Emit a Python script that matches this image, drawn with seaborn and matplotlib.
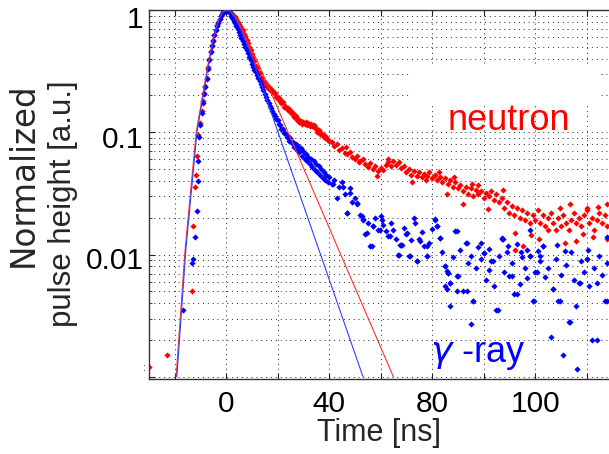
import numpy as np
import pandas as pd
import matplotlib
matplotlib.use("Agg")
import matplotlib.pyplot as plt
import matplotlib.transforms as mtransforms
from matplotlib.patches import Rectangle
import seaborn as sns

# ---------------- data ----------------
# neutron (red) pulse: sparse leading points, dense band, tail
neutron_t_early = [-29.8, -23.0, -13.3, -12.7, -12.0, -11.7, -11.1, -10.7]
neutron_v_early = [0.00121, 0.0015, 0.0050, 0.017, 0.036, 0.0445, 0.064, 0.095]

band_t = np.arange(-10.0, 40.01, 0.5)
neutron_v_band = [
    0.12, 0.15, 0.18, 0.21, 0.24, 0.28, 0.34, 0.40, 0.46, 0.52,
    0.57, 0.63, 0.69, 0.75, 0.80, 0.85, 0.90, 0.93, 0.96, 0.99,
    1.00, 1.00, 0.99, 0.97, 0.95, 0.92, 0.90, 0.87, 0.84, 0.80,
    0.77, 0.74, 0.71, 0.68, 0.64, 0.61, 0.57, 0.54, 0.50, 0.47,
    0.44, 0.41, 0.385, 0.35, 0.335, 0.31, 0.305, 0.28, 0.28, 0.26,
    0.26, 0.24, 0.242, 0.228, 0.23, 0.218, 0.222, 0.208, 0.208, 0.194,
    0.195, 0.182, 0.186, 0.172, 0.176, 0.162, 0.165, 0.154, 0.159, 0.148,
    0.151, 0.140, 0.144, 0.134, 0.136, 0.126, 0.128, 0.121, 0.124, 0.117,
    0.121, 0.116, 0.122, 0.114, 0.119, 0.113, 0.118, 0.112, 0.114, 0.108,
    0.108, 0.101, 0.104, 0.097, 0.099, 0.093, 0.095, 0.090, 0.091, 0.086,
    0.085]

tail_t = np.arange(41, 149, 1)
neutron_v_tail = [
    0.083, 0.077, 0.080, 0.071, 0.074, 0.068, 0.066, 0.069, 0.063, 0.060,
    0.064, 0.058, 0.061, 0.055, 0.052, 0.056, 0.050, 0.053, 0.048, 0.051,
    0.049, 0.054, 0.057, 0.053, 0.058, 0.054, 0.057, 0.051, 0.053, 0.047,
    0.050, 0.045, 0.048, 0.044, 0.047, 0.043, 0.046, 0.044, 0.047, 0.042,
    0.045, 0.041, 0.043, 0.039, 0.042, 0.038, 0.041, 0.036, 0.039, 0.035,
    0.037, 0.033, 0.036, 0.031, 0.035, 0.030, 0.034, 0.031, 0.033, 0.029,
    0.032, 0.030, 0.033, 0.028, 0.031, 0.027, 0.029, 0.024, 0.027, 0.022,
    0.025, 0.021, 0.024, 0.020, 0.023, 0.019, 0.022, 0.018, 0.021, 0.019,
    0.023, 0.018, 0.021, 0.017, 0.020, 0.022, 0.018, 0.016, 0.020, 0.017,
    0.021, 0.018, 0.016, 0.019, 0.022, 0.018, 0.020, 0.017, 0.021, 0.023,
    0.018, 0.020, 0.016, 0.019, 0.022, 0.018, 0.021, 0.017]

neutron_t_extra = [46.5, 51.5, 58.5, 63.0, 72.1, 77.5, 82.5, 85.7, 88.5, 92.0,
                   95.5, 98.0, 101.9, 107.5, 112.2, 112.2, 115.5, 118.5, 121.5, 125.2,
                   129.7, 131.5, 133.5, 136.0, 138.5, 140.0, 142.6, 144.5, 147.8, 147.8]
neutron_v_extra = [0.076, 0.057, 0.044, 0.061, 0.039, 0.041, 0.047, 0.031, 0.043, 0.0258,
                   0.038, 0.037, 0.0234, 0.034, 0.0151, 0.011, 0.0117, 0.0145, 0.0135, 0.0159,
                   0.024, 0.0125, 0.026, 0.0129, 0.0148, 0.024, 0.014, 0.0245, 0.0133, 0.026]

# gamma-ray (blue) pulse
gamma_t_early = [-16.6, -13.1, -12.9, -12.0, -11.4, -11.0, -10.7, -10.4]
gamma_v_early = [0.0035, 0.0085, 0.0092, 0.0139, 0.0226, 0.040, 0.058, 0.092]

gamma_v_band = [
    0.115, 0.145, 0.175, 0.205, 0.235, 0.275, 0.33, 0.39, 0.45, 0.51,
    0.56, 0.62, 0.68, 0.74, 0.79, 0.84, 0.89, 0.93, 0.96, 0.99,
    1.00, 0.99, 0.97, 0.94, 0.90, 0.86, 0.82, 0.78, 0.74, 0.70,
    0.66, 0.63, 0.59, 0.56, 0.53, 0.50, 0.475, 0.445, 0.415, 0.39,
    0.365, 0.345, 0.325, 0.31, 0.295, 0.28, 0.262, 0.248, 0.235, 0.222,
    0.207, 0.195, 0.185, 0.174, 0.165, 0.157, 0.149, 0.142, 0.137, 0.129,
    0.125, 0.116, 0.115, 0.106, 0.107, 0.099, 0.099, 0.092, 0.094, 0.085,
    0.089, 0.081, 0.084, 0.076, 0.080, 0.072, 0.077, 0.069, 0.074, 0.064,
    0.070, 0.061, 0.066, 0.058, 0.063, 0.055, 0.061, 0.052, 0.058, 0.049,
    0.055, 0.047, 0.053, 0.045, 0.050, 0.042, 0.047, 0.041, 0.045, 0.039,
    0.043]

gamma_v_tail = [
    0.038, 0.041, 0.029, 0.036, 0.039, 0.031, 0.022, 0.032, 0.027, 0.029,
    0.026, 0.021, 0.019, 0.0146, 0.018, 0.0117, 0.017, 0.020, 0.016, 0.0205,
    0.0175, 0.0155, 0.0143, 0.018, 0.0158, 0.0135, 0.010, 0.012, 0.0165, 0.0146,
    0.0098, 0.0132, 0.020, 0.0088, 0.0133, 0.0152, 0.0117, 0.0098, 0.0125, 0.0162,
    0.0194, 0.017, 0.0137, 0.0105, 0.008, 0.0071, 0.0059, 0.0095, 0.0155, 0.0067,
    0.011, 0.005, 0.0125, 0.0085, 0.0027, 0.0042, 0.0078, 0.0115, 0.0092, 0.0104,
    0.0062, 0.0075, 0.0088, 0.0055, 0.0035, 0.0098, 0.0134, 0.0072, 0.0105, 0.0067,
    0.0085, 0.0048, 0.0122, 0.0058, 0.0095, 0.0078, 0.0064, 0.0098, 0.0042, 0.0072,
    0.0108, 0.0088, 0.0117, 0.0065, 0.0078, 0.0021, 0.0052, 0.0092, 0.0042, 0.0068,
    0.0015, 0.0082, 0.0028, 0.0105, 0.0062, 0.0038, 0.0059, 0.0088, 0.0072, 0.0092,
    0.0055, 0.0020, 0.0078, 0.0059, 0.0098, 0.0068, 0.0042, 0.0085]

gamma_t_extra = [41.7, 45.6, 48.2, 50.8, 46.9, 52.7, 53.3, 57.2, 60.5, 54.6,
                 56.6, 59.8, 63.7, 67.6, 70.2, 73.4, 75.3, 77.9, 66.9, 71.5,
                 74.1, 81.2, 81.8, 83.1, 85.0, 86.3, 89.5, 93.5, 68.2, 77.9,
                 85.7, 89.5, 87.0, 85.7, 89.5, 93.5, 96.0, 87.0, 100.0, 103.8,
                 105.7, 107.7, 110.9, 112.8, 118.0, 119.4, 120.6, 123.2, 127.1, 129.7,
                 133.6, 136.2, 137.5, 140.0, 144.0, 147.8, 107.0, 118.0, 128.4, 147.8,
                 116.8, 140.6, 85.0, 95.0, 99.0, 102.0, 109.5, 114.5, 122.0, 131.5]
gamma_v_extra = [0.0375, 0.036, 0.035, 0.0266, 0.022, 0.0205, 0.0194, 0.0171, 0.019, 0.015,
                 0.0117, 0.016, 0.0143, 0.012, 0.015, 0.018, 0.013, 0.0117, 0.010, 0.0098,
                 0.0088, 0.019, 0.017, 0.0137, 0.008, 0.0071, 0.0155, 0.0125, 0.012, 0.0098,
                 0.0073, 0.0067, 0.0059, 0.0052, 0.005, 0.005, 0.0042, 0.0038, 0.0104, 0.0088,
                 0.0035, 0.0134, 0.0067, 0.0048, 0.0098, 0.0042, 0.0072, 0.0117, 0.0052, 0.0042,
                 0.0028, 0.00115, 0.0059, 0.0092, 0.002, 0.0042, 0.0137, 0.016, 0.012, 0.014,
                 0.011, 0.011, 0.0055, 0.0098, 0.0125, 0.0112, 0.0118, 0.0105, 0.0098, 0.0108]

# fitted curves (vertices)
neutron_fit_t = [-19.4, -15.9, -11.6, -9.1, -7.1, -5.0, -3.0, -1.5, 0.0, 1.0, 2.0, 3.0, 4.0, 6.0, 8.0, 10.0, 12.0, 65.0]
neutron_fit_v = [0.001, 0.011, 0.10, 0.20, 0.35, 0.58, 0.82, 0.95, 1.0, 0.99, 0.96, 0.91, 0.85, 0.70, 0.57, 0.45, 0.39, 0.001]
gamma_fit_t = [-19.1, -15.6, -11.3, -8.9, -6.9, -4.9, -2.9, -1.4, 0.0, 1.0, 2.0, 3.0, 4.0, 6.0, 8.0, 10.0, 53.2]
gamma_fit_v = [0.001, 0.011, 0.10, 0.20, 0.35, 0.58, 0.82, 0.95, 1.0, 0.99, 0.95, 0.89, 0.82, 0.68, 0.54, 0.415, 0.001]

xtick_pos = [-20, 0, 20, 40, 60, 80, 100, 120, 140]
xtick_lab = ['', '0', '', '40', '', '80', '', '100', '']
ytick_pos = [0.001, 0.01, 0.1, 1]
ytick_lab = ['', '0.01', '0.1', '1']

# ---------------- build frames ----------------
neutron = pd.DataFrame({
    't': np.concatenate([neutron_t_early, band_t, tail_t, neutron_t_extra]),
    'v': np.concatenate([neutron_v_early, neutron_v_band, neutron_v_tail, neutron_v_extra])})
gamma = pd.DataFrame({
    't': np.concatenate([gamma_t_early, band_t, tail_t, gamma_t_extra]),
    'v': np.concatenate([gamma_v_early, gamma_v_band, gamma_v_tail, gamma_v_extra])})
nfit = pd.DataFrame({'t': neutron_fit_t, 'v': neutron_fit_v})
gfit = pd.DataFrame({'t': gamma_fit_t, 'v': gamma_fit_v})

# ---------------- style ----------------
sns.set_style("ticks")
plt.rcParams['font.family'] = ['Liberation Sans', 'DejaVu Sans']
plt.rcParams['mathtext.fontset'] = 'dejavusans'

W, H = 609, 454
fig = plt.figure(figsize=(W / 100, H / 100), dpi=100)
ax = fig.add_axes([149.3 / W, 1 - 378.5 / H, (W - 149.3) / W, 368.5 / H])
ax.set_yscale('log')

sns.scatterplot(data=neutron, x='t', y='v', ax=ax, color='#ff0000', marker='D',
                s=10, linewidth=0, zorder=2, legend=False)
sns.scatterplot(data=gamma, x='t', y='v', ax=ax, color='#0000ff', marker='D',
                s=10, linewidth=0, zorder=2.1, legend=False)
sns.lineplot(data=nfit, x='t', y='v', ax=ax, sort=False, estimator=None,
             color='#ff3030', linewidth=0.8, zorder=3)
sns.lineplot(data=gfit, x='t', y='v', ax=ax, sort=False, estimator=None,
             color='#3040ff', linewidth=0.8, zorder=3.1)

ax.set_xlim(-29.8, 148.7)
ax.set_ylim(0.00097, 1.0)

ax.set_xticks(xtick_pos)
ax.set_xticklabels(xtick_lab)
ax.set_yticks(ytick_pos)
ax.set_yticklabels(ytick_lab)
ax.yaxis.set_minor_locator(matplotlib.ticker.LogLocator(base=10, subs=np.arange(2, 10)))
ax.yaxis.set_minor_formatter(matplotlib.ticker.NullFormatter())

ax.tick_params(axis='both', which='both', direction='in', top=True, right=False,
               labelsize=21.5, colors='#222222', labelcolor='black')
ax.tick_params(axis='x', which='major', length=4, width=0.8, pad=8)
ax.tick_params(axis='y', which='major', length=4, width=0.8, pad=4)
ax.tick_params(axis='y', which='minor', length=2, width=0.6)

ax.set_axisbelow(True)
dot = (0, (1, 4))
ax.grid(True, which='major', axis='x', linestyle=dot, color='#222222', linewidth=0.7)
ax.grid(True, which='both', axis='y', linestyle=dot, color='#222222', linewidth=0.7)

for side in ['top', 'bottom', 'left']:
    ax.spines[side].set_color('#333333')
    ax.spines[side].set_linewidth(1.0)
ax.spines['right'].set_visible(False)

# white patch hiding part of the grid behind the label area
ax.add_patch(Rectangle((0.567, 0.7395), 0.413, 0.111, transform=ax.transAxes,
                       facecolor='white', edgecolor='none', zorder=0.8))

ax.set_xlabel('Time [ns]', fontsize=22, labelpad=0)
ax.set_ylabel('')
# two-line y label, lines end-aligned at the top as in the reference
fig.text(33 / W, 1 - 82 / H, 'Normalized', rotation=90, rotation_mode='anchor',
         ha='right', va='baseline', fontsize=23.5, family='DejaVu Sans')
fig.text(71 / W, 1 - 80 / H, 'pulse height [a.u.]', rotation=90, rotation_mode='anchor',
         ha='right', va='baseline', fontsize=22.5)
fig.text(145 / W, 1 - 368 / H, ':', fontsize=8, ha='center', va='center')

ax.text(0.65, 0.674, 'neutron', transform=ax.transAxes, color='#ff0000',
        fontsize=26, ha='left', va='baseline', zorder=5)
ax.text(0.611, 0.0456, r'$\gamma$ -ray', transform=ax.transAxes, color='#0000ff',
        fontsize=26, ha='left', va='baseline', zorder=5)

# small downward nudge of y tick labels as in the reference
shifts = {0.001: 0, 0.01: -3, 0.1: -4.5, 1: -6.5}
fig.canvas.draw()
for tick, pos in zip(ax.yaxis.get_major_ticks(), ax.get_yticks()):
    dy = shifts.get(float(pos), 0)
    off = mtransforms.ScaledTranslation(0, dy / 100, fig.dpi_scale_trans)
    tick.label1.set_transform(tick.label1.get_transform() + off)

fig.savefig('out.png', dpi=100)
